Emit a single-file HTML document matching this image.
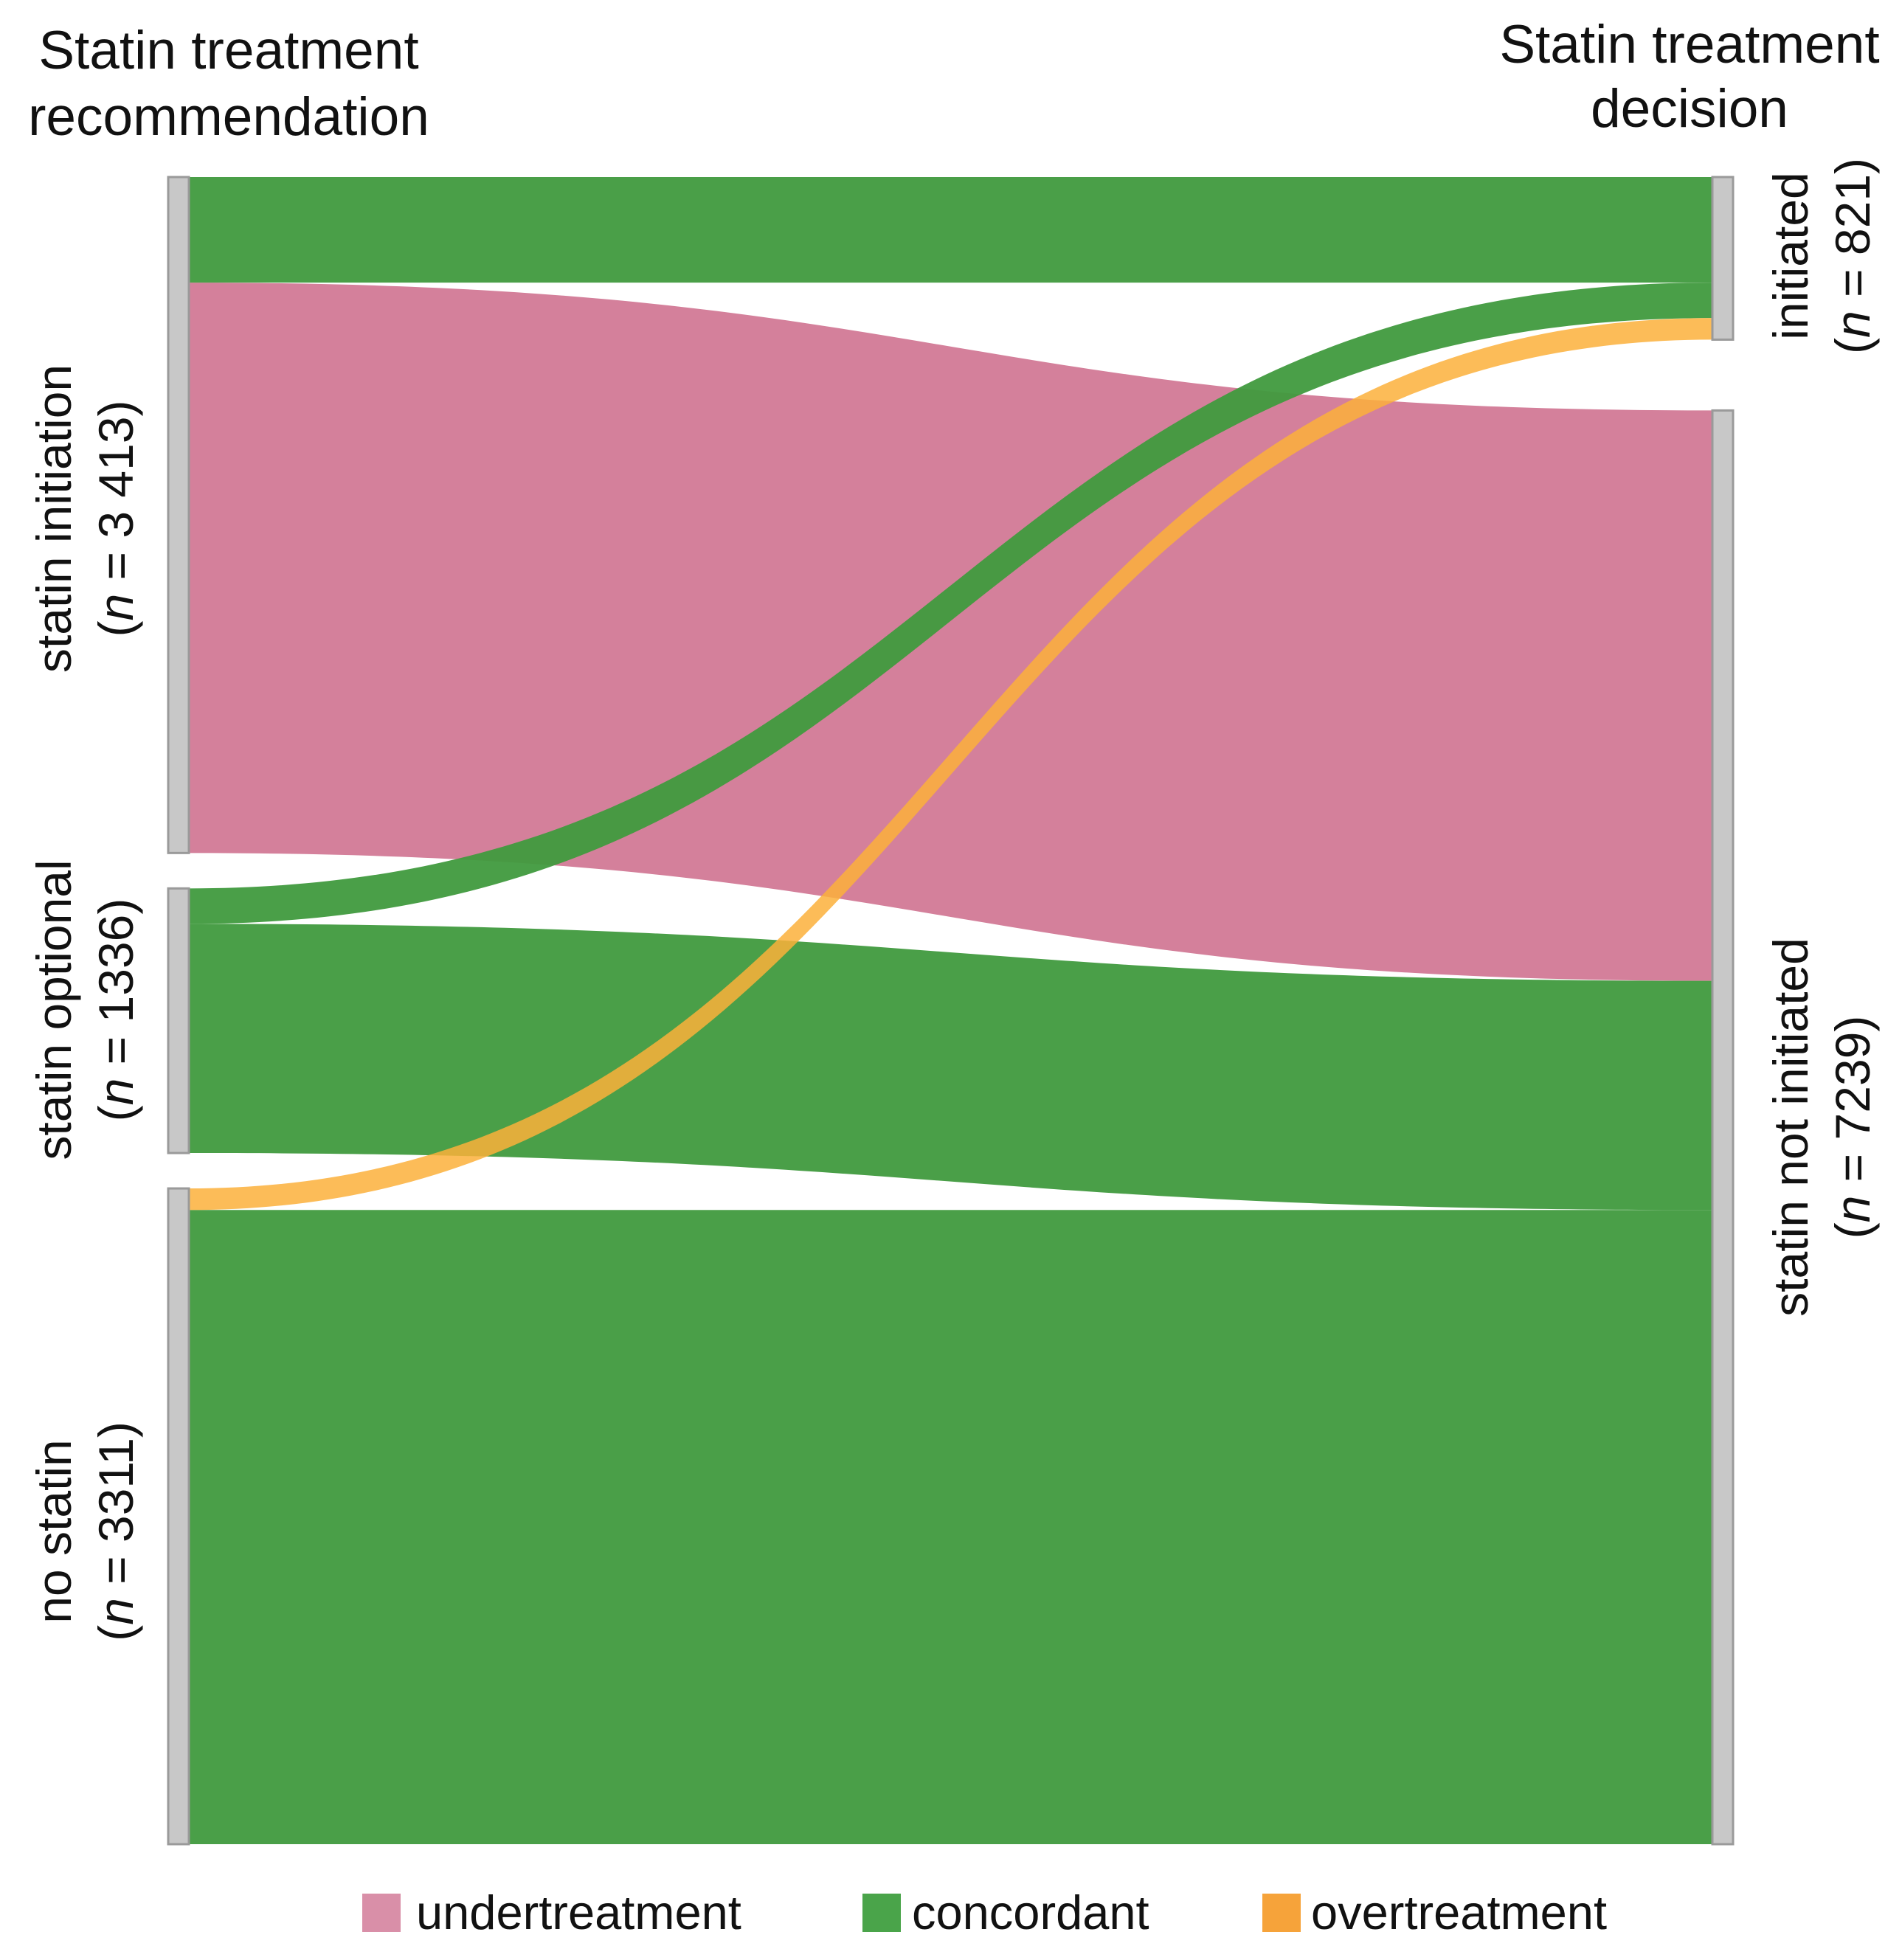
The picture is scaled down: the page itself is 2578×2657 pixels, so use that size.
<!DOCTYPE html>
<html><head><meta charset="utf-8"><style>
html,body{margin:0;padding:0;background:#fff;}
svg{display:block;font-family:"Liberation Sans",sans-serif;}
</style></head><body>
<svg id="chart" width="2578" height="2657" viewBox="0 0 2578 2657">
<g id="links"></g>
<g id="nodes"></g>
<g font-size="73" text-anchor="middle" fill="#111">
<text x="310" y="93">Statin treatment</text>
<text x="310" y="183">recommendation</text>
</g>
<g font-size="73" text-anchor="middle" fill="#111">
<text x="2290" y="85">Statin treatment</text>
<text x="2290" y="172">decision</text>
</g>
<g id="labels" font-size="66" text-anchor="middle" fill="#111">
<g transform="translate(0,703) rotate(-90)"><text x="0" y="96">statin initiation</text><text x="0" y="180">(<tspan font-style="italic">n</tspan> = 3 413)</text></g>
<g transform="translate(0,1369) rotate(-90)"><text x="0" y="96">statin optional</text><text x="0" y="180">(<tspan font-style="italic">n</tspan> = 1336)</text></g>
<g transform="translate(0,2076) rotate(-90)"><text x="0" y="96">no statin</text><text x="0" y="180">(<tspan font-style="italic">n</tspan> = 3311)</text></g>
<g transform="translate(0,347) rotate(-90)"><text x="0" y="2450">initiated</text><text x="0" y="2534">(<tspan font-style="italic">n</tspan> = 821)</text></g>
<g transform="translate(0,1528) rotate(-90)"><text x="0" y="2450">statin not initiated</text><text x="0" y="2534">(<tspan font-style="italic">n</tspan> = 7239)</text></g>
</g>
<g font-size="65" fill="#111">
<rect x="491" y="2567" width="52" height="52" fill="#d98fa8"/>
<text x="564" y="2615">undertreatment</text>
<rect x="1169" y="2567" width="52" height="52" fill="#4aa44a"/>
<text x="1236" y="2615">concordant</text>
<rect x="1711" y="2567" width="52" height="52" fill="#f6a33a"/>
<text x="1777" y="2615">overtreatment</text>
</g>
</svg>
<script>
const sources = ["statin-initiation","statin-optional","no-statin"];
const targets = ["initiated","not-initiated"];
const linkSource = [0,0,1,1,2,2];
const linkTarget = [0,1,0,1,0,1];
const linkValue = [533,2880,179,1157,109,3202];
const linkType = ["concordant","undertreatment","concordant","concordant","overtreatment","concordant"];

const colors = {concordant:"#409a3e", undertreatment:"#d4809b", overtreatment:"#fbb03b"};
const opac = {concordant:"0.95", undertreatment:"1", overtreatment:"0.85"};
const top0 = 240, bottom = 2500, leftGap = 48, rightGap = 96;
const xL0 = 228, xL1 = 256, xR0 = 2321, xR1 = 2349;
const srcTot = sources.map((s,i)=>linkValue.reduce((a,v,k)=>a+(linkSource[k]===i?v:0),0));
const tgtTot = targets.map((s,i)=>linkValue.reduce((a,v,k)=>a+(linkTarget[k]===i?v:0),0));
const total = srcTot.reduce((a,b)=>a+b,0);
const k = (bottom - top0 - leftGap*(sources.length-1)) / total;
const NS = "http://www.w3.org/2000/svg";
const srcY = []; let y = top0;
srcTot.forEach(v=>{srcY.push(y); y += v*k + leftGap;});
const tgtY = []; y = top0;
const kR = (bottom - top0 - rightGap*(targets.length-1)) / total;
tgtTot.forEach(v=>{tgtY.push(y); y += v*kR + rightGap;});

const nodesG = document.getElementById('nodes');
function bar(x, yy, h, name){
  const r = document.createElementNS(NS,'rect');
  r.setAttribute('x', x); r.setAttribute('y', yy); r.setAttribute('width', xL1-xL0); r.setAttribute('height', h);
  r.setAttribute('fill', '#c8c8c8'); r.setAttribute('stroke', '#9a9a9a'); r.setAttribute('stroke-width', '3');
  
  
  nodesG.appendChild(r);
}
sources.forEach((s,i)=>bar(xL0, srcY[i], srcTot[i]*k, 'node-'+s));
targets.forEach((t,i)=>bar(xR0, tgtY[i], tgtTot[i]*kR, 'node-'+t));

const srcOff = srcY.slice(), tgtOff = tgtY.slice();
const linksG = document.getElementById('links');
const order = [1,3,5,0,2,4];
const geom = linkValue.map((v,i)=>{
  const h = v*k;
  const ys = srcOff[linkSource[i]]; srcOff[linkSource[i]] += h;
  const yt = tgtOff[linkTarget[i]]; tgtOff[linkTarget[i]] += h;
  return {ys, yt, h};
});
order.forEach(i=>{
  const g = geom[i], xm = (xL1+xR0)/2;
  const d = `M${xL1},${g.ys} C${xm},${g.ys} ${xm},${g.yt} ${xR0},${g.yt} L${xR0},${g.yt+g.h} C${xm},${g.yt+g.h} ${xm},${g.ys+g.h} ${xL1},${g.ys+g.h} Z`;
  const p = document.createElementNS(NS,'path');
  p.setAttribute('d', d);
  p.setAttribute('fill', colors[linkType[i]]);
  p.setAttribute('fill-opacity', opac[linkType[i]]);
  
  
  linksG.appendChild(p);
});
</script>
</body></html>
